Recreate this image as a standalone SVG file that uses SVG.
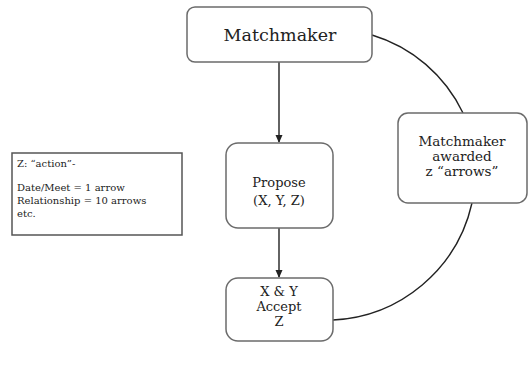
<svg xmlns="http://www.w3.org/2000/svg" width="528" height="368" viewBox="0 0 528 368">
<style>
.box{fill:#fff;stroke:#6b6b6b;stroke-width:1.5}
.t{font-family:"DejaVu Serif","Liberation Serif",serif;fill:#222;text-anchor:middle}
.n{font-family:"DejaVu Serif","Liberation Serif",serif;fill:#222;font-size:10px}
.c{fill:none;stroke:#222;stroke-width:1.4}
</style>
<defs>
<marker id="ah" markerWidth="8" markerHeight="8" refX="7" refY="4" orient="auto" markerUnits="userSpaceOnUse">
<path d="M0,0.5 L8,4 L0,7.5 Z" fill="#222"/>
</marker>
</defs>
<rect width="528" height="368" fill="#fff"/>
<g id="connectors">
<path class="c" d="M279,62 L279,142" marker-end="url(#ah)"/>
<path class="c" d="M279,228 L279,277" marker-end="url(#ah)"/>
<path class="c" d="M372,35 A148,148 0 0 1 463,113"/>
<path class="c" d="M472,203 A150,150 0 0 1 333,320"/>
</g>
<g id="matchmaker">
<rect class="box" x="187" y="7" width="185" height="55" rx="8"/>
<text class="t" x="280" y="41" font-size="17.5">Matchmaker</text>
</g>
<g id="note">
<rect x="12" y="153" width="170" height="82" fill="#fff" stroke="#555" stroke-width="1.5"/>
<text class="n" x="17" y="167">Z: “action”-</text>
<text class="n" x="17" y="191">Date/Meet = 1 arrow</text>
<text class="n" x="17" y="204">Relationship = 10 arrows</text>
<text class="n" x="17" y="217">etc.</text>
</g>
<g id="propose">
<rect class="box" x="226" y="143" width="107" height="85" rx="12"/>
<text class="t" x="279" y="187" font-size="13">Propose</text>
<text class="t" x="279" y="205" font-size="13">(X, Y, Z)</text>
</g>
<g id="accept">
<rect class="box" x="226" y="278" width="107" height="63" rx="12"/>
<text class="t" x="279" y="296" font-size="13">X &amp; Y</text>
<text class="t" x="279" y="311" font-size="13">Accept</text>
<text class="t" x="279" y="326" font-size="13">Z</text>
</g>
<g id="awarded">
<rect class="box" x="398" y="113" width="129" height="90" rx="10"/>
<text class="t" x="462" y="146" font-size="13.5">Matchmaker</text>
<text class="t" x="462" y="161" font-size="13.5">awarded</text>
<text class="t" x="462" y="176" font-size="13.5">z “arrows”</text>
</g>
</svg>
